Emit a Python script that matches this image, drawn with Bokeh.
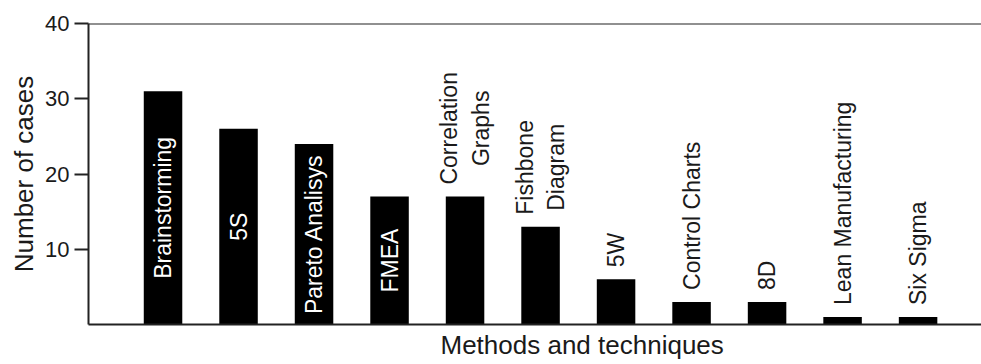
import math
from bokeh.plotting import figure
from bokeh.models import Range1d, FixedTicker, Span, ColumnDataSource, Title
from bokeh.embed import file_html
from bokeh.resources import INLINE
from bokeh.core.properties import value

# ---- data ----
categories = ["Brainstorming", "5S", "Pareto Analisys", "FMEA", "Correlation\nGraphs",
              "Fishbone\nDiagram", "5W", "Control Charts", "8D", "Lean Manufacturing", "Six Sigma"]
cases = [31, 26, 24, 17, 17, 13, 6, 3, 3, 1, 1]
label_inside = [True, True, True, True, False, False, False, False, False, False, False]
y_ticks = [10, 20, 30, 40]
y_max = 40
x_title = "Methods and techniques"
y_title = "Number of cases"

FONT = "Liberation Sans"
INK = "#1a1a1a"

xs = list(range(len(categories)))
src = ColumnDataSource(dict(x=xs, top=cases))

inside = ColumnDataSource(dict(
    x=[x for x, f in zip(xs, label_inside) if f],
    y=[v / 2 for v, f in zip(cases, label_inside) if f],
    t=[c for c, f in zip(categories, label_inside) if f]))
outside = ColumnDataSource(dict(
    x=[x for x, f in zip(xs, label_inside) if not f],
    y=[v for v, f in zip(cases, label_inside) if not f],
    t=[c for c, f in zip(categories, label_inside) if not f]))

p = figure(width=981, height=364, output_backend="svg", toolbar_location=None,
           x_range=Range1d(-0.987, 10.84), y_range=Range1d(0, y_max),
           min_border_left=88, min_border_right=0, min_border_top=23, min_border_bottom=40)
p.outline_line_color = None
p.xgrid.visible = False
p.ygrid.visible = False
p.background_fill_color = "white"
p.border_fill_color = "white"

p.vbar(x="x", top="top", bottom=0, width=0.51, source=src, fill_color="black", line_color=None)

p.text(x="x", y="y", text="t", source=inside, angle=math.pi / 2,
       text_align="center", text_baseline="middle", text_color="white",
       text_font=value(FONT), text_font_size="23px")
p.text(x="x", y="y", text="t", source=outside, angle=math.pi / 2,
       anchor=value("center_left"), text_align="center", y_offset=-12,
       text_color=INK, text_font=value(FONT), text_font_size="23px")

p.add_layout(Span(location=y_max, dimension="width", line_color="#222222", line_width=2))

# y axis
ya = p.yaxis[0]
ya.ticker = FixedTicker(ticks=y_ticks)
ya.axis_label = y_title
ya.axis_label_text_font = FONT
ya.axis_label_text_font_size = "26px"
ya.axis_label_text_font_style = "normal"
ya.axis_label_text_color = INK
ya.axis_label_standoff = 3
ya.major_label_text_font = FONT
ya.major_label_text_font_size = "22px"
ya.major_label_text_color = INK
ya.major_label_standoff = 5
ya.major_tick_out = 14
ya.major_tick_in = 0
ya.major_tick_line_width = 2
ya.major_tick_line_color = "#222222"
ya.minor_tick_line_color = None
ya.axis_line_width = 2
ya.axis_line_color = "#222222"

# x axis (line only) + title placed below it
xa = p.xaxis[0]
xa.ticker = FixedTicker(ticks=[])
xa.major_tick_line_color = None
xa.minor_tick_line_color = None
xa.major_label_text_font_size = "0px"
xa.major_label_standoff = 0
xa.axis_line_width = 2
xa.axis_line_color = "#222222"

p.add_layout(Title(text=x_title, align="left", offset=352, standoff=7,
                   text_font=FONT, text_font_size="26px", text_font_style="normal",
                   text_color=INK), "below")

open("out.html", "w").write(file_html(p, INLINE))
